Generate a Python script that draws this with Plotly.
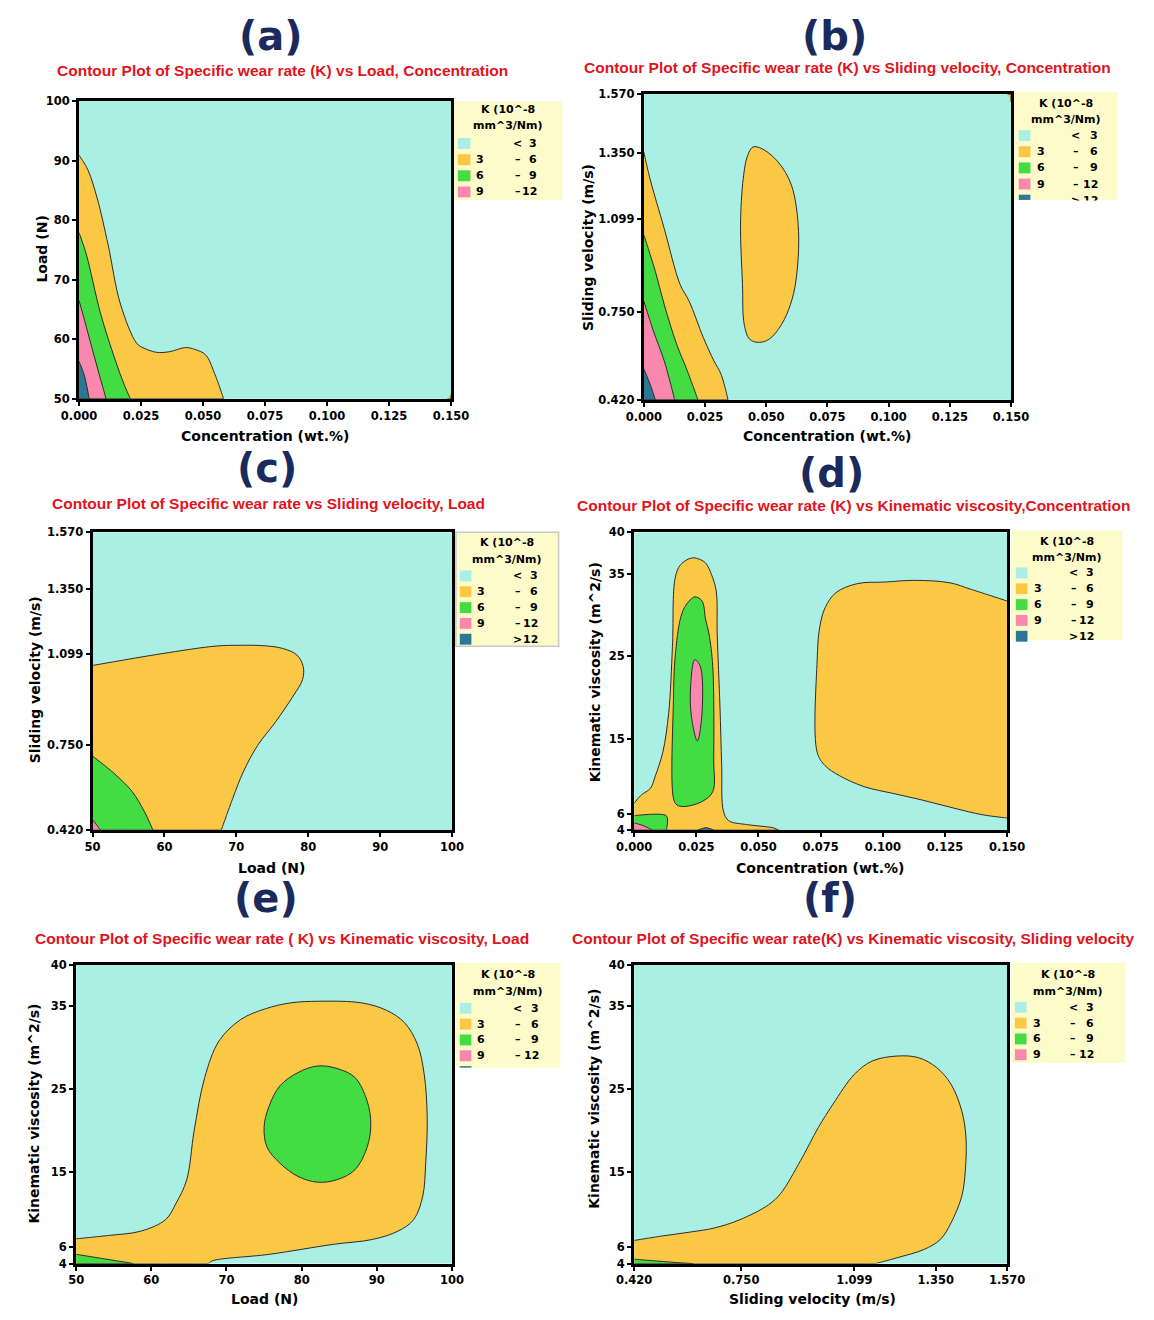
import plotly.graph_objects as go

W, H = 1154, 1320

# ---------------- colours / levels ----------------
C_CYAN = "#a9efe4"
C_YEL = "#fac845"
C_GRN = "#43dc43"
C_PNK = "#fa87ad"
C_TEAL = "#2a7896"
LEVEL_COLORS = [C_CYAN, C_YEL, C_GRN, C_PNK, C_TEAL]
LEVEL_LOW = ["", "3", "6", "9", ""]
LEVEL_MID = ["<", "–", "–", "–", ">"]
LEVEL_HIGH = ["3", "6", "9", "12", "12"]

# ---------------- tick values / labels ----------------
conc_ticks = [0.0, 0.025, 0.05, 0.075, 0.1, 0.125, 0.15]
conc_labels = ["0.000", "0.025", "0.050", "0.075", "0.100", "0.125", "0.150"]
load_ticks = [50, 60, 70, 80, 90, 100]
load_labels = ["50", "60", "70", "80", "90", "100"]
vel_ticks = [0.42, 0.75, 1.099, 1.35, 1.57]
vel_labels = ["0.420", "0.750", "1.099", "1.350", "1.570"]
visc_ticks = [4, 6, 15, 25, 35, 40]
visc_labels = ["4", "6", "15", "25", "35", "40"]

# ---------------- (a) Load vs Concentration ----------------
a_yel_x = [0, 0.0036, 0.0073, 0.0117, 0.0167, 0.0233, 0.0262, 0.0313, 0.0364, 0.0430, 0.0466, 0.0510, 0.0546, 0.0583, 0]
a_yel_y = [90.9, 88.4, 83.7, 75.9, 65.9, 59.3, 58.5, 57.8, 57.9, 58.6, 58.3, 57.4, 54.3, 50, 50]
a_grn_x = [0, 0.0029, 0.0087, 0.0146, 0.0182, 0.0207, 0]
a_grn_y = [77.9, 74.3, 64.3, 56.5, 52.4, 50, 50]
a_pnk_x = [0, 0.0022, 0.0051, 0.0080, 0.0109, 0]
a_pnk_y = [66.5, 63.2, 58.7, 54.3, 50, 50]
a_teal_x = [0, 0.0022, 0.0041, 0]
a_teal_y = [56.3, 53.8, 50, 50]
a_yel2_x = [0.1485, 0.150, 0.150]
a_yel2_y = [50, 50, 50.7]

# ---------------- (b) Sliding velocity vs Concentration ----------------
b_yel_x = [0, 0.0025, 0.0083, 0.0148, 0.0185, 0.0243, 0.0286, 0.0315, 0.0344, 0]
b_yel_y = [1.352, 1.252, 1.065, 0.854, 0.791, 0.654, 0.567, 0.517, 0.42, 0.42]
b_grn_x = [0, 0.0047, 0.0083, 0.0134, 0.0177, 0.0221, 0]
b_grn_y = [1.040, 0.903, 0.779, 0.629, 0.530, 0.42, 0.42]
b_pnk_x = [0, 0.0039, 0.0083, 0.0126, 0]
b_pnk_y = [0.791, 0.679, 0.567, 0.42, 0.42]
b_teal_x = [0, 0.0025, 0.0047, 0]
b_teal_y = [0.536, 0.480, 0.42, 0.42]
b_yel2_x = [0.0446, 0.0483, 0.0548, 0.0603, 0.0632, 0.0621, 0.0599, 0.0563, 0.0512, 0.0468, 0.0432, 0.0410, 0.0403, 0.0395, 0.0406, 0.0424]
b_yel2_y = [1.371, 1.364, 1.315, 1.227, 1.053, 0.866, 0.779, 0.704, 0.648, 0.636, 0.648, 0.704, 0.854, 1.078, 1.252, 1.339]
b_yel3_x = [0.1485, 0.150, 0.150]
b_yel3_y = [1.57, 1.57, 1.54]

# ---------------- (c) Sliding velocity vs Load ----------------
c_yel_x = [50, 59.5, 67.2, 70.5, 74.0, 76.4, 78.4, 79.3, 79.2, 77.9, 75.4, 72.95, 70.96, 69.5, 67.9, 50]
c_yel_y = [1.056, 1.101, 1.131, 1.134, 1.132, 1.122, 1.097, 1.052, 1.001, 0.938, 0.836, 0.747, 0.645, 0.543, 0.42, 0.42]
c_grn_x = [50, 53.0, 55.5, 57.2, 58.4, 50]
c_grn_y = [0.706, 0.639, 0.569, 0.492, 0.42, 0.42]
c_pnk_x = [50, 51.1, 50]
c_pnk_y = [0.461, 0.42, 0.42]

# ---------------- (d) Kinematic viscosity vs Concentration ----------------
d_yel_x = [0, 0.0029, 0.0065, 0.0086, 0.0115, 0.0139, 0.0154, 0.0165, 0.0187, 0.0230, 0.0258, 0.0287, 0.0311,
           0.0330, 0.0334, 0.0345, 0.0352, 0.0359, 0.0380, 0.0452, 0.0510, 0.0560, 0.0581, 0]
d_yel_y = [7.26, 8.26, 9.05, 10.64, 13.4, 18.2, 26.2, 34.5, 36.1, 36.9, 36.8, 36.3, 34.9,
           32.9, 27.7, 19.0, 11.8, 6.3, 5.15, 4.68, 4.48, 4.28, 4.0, 4.0]
d_grn_x = [0.0158, 0.0158, 0.0165, 0.0187, 0.0208, 0.0244, 0.0273, 0.0287, 0.0301, 0.0316, 0.0320, 0.0316, 0.0273, 0.0201, 0.0172]
d_grn_y = [7.86, 19.8, 25.0, 29.7, 31.2, 32.2, 31.7, 29.5, 27.7, 23.8, 12.6, 8.65, 7.46, 6.86, 7.06]
d_pnk_x = [0.0244, 0.0266, 0.0273, 0.0254, 0.0230, 0.0227]
d_pnk_y = [24.6, 23.8, 18.2, 14.8, 17.8, 21.4]
d_grn2_x = [0, 0.0129, 0.0134, 0.0129, 0]
d_grn2_y = [5.75, 5.75, 4.88, 4.0, 4.0]
d_pnk2_x = [0, 0.0043, 0.0072, 0]
d_pnk2_y = [4.88, 4.48, 4.0, 4.0]
d_teal_x = [0.0255, 0.0290, 0.0320]
d_teal_y = [4.0, 4.3, 4.0]
d_yel2_x = [0.150, 0.1356, 0.127, 0.1127, 0.1012, 0.0897, 0.0811, 0.0768, 0.0746, 0.0736, 0.0736, 0.0768, 0.0825,
            0.0926, 0.104, 0.1156, 0.1285, 0.140, 0.150]
d_yel2_y = [31.7, 33.1, 33.9, 34.2, 34.0, 33.8, 32.7, 30.9, 28.5, 24.6, 13.4, 11.8, 10.6,
            9.25, 8.45, 7.66, 6.67, 5.87, 5.47]

# ---------------- (e) Kinematic viscosity vs Load ----------------
e_yel_x = [50, 54.3, 58.6, 61.9, 63.3, 64.7, 65.7, 67.1, 69.0, 71.9, 75.2, 78.5, 82.3, 88.0, 91.3, 93.7, 95.4,
           96.3, 96.7, 96.5, 96.1, 94.9, 92.8, 89.4, 84.2, 75.7, 68.1, 67.6, 50]
e_yel_y = [6.98, 7.38, 7.9, 9.29, 11.28, 14.06, 20.0, 26.4, 30.8, 33.4, 34.7, 35.4, 35.6, 35.4, 34.5, 33.0, 30.4,
           26.8, 21.6, 16.1, 12.1, 9.29, 7.9, 6.9, 6.31, 5.11, 4.32, 4.0, 4.0]
e_grn_x = [82.1, 84.7, 87.1, 88.7, 89.2, 88.7, 87.1, 84.7, 82.1, 79.5, 77.1, 75.4, 75.0, 75.6, 77.1, 79.5]
e_grn_y = [27.8, 27.5, 26.4, 23.6, 20.8, 18.0, 15.3, 14.1, 13.8, 14.5, 16.1, 18.0, 20.4, 22.8, 25.4, 27.0]
e_grn2_x = [50, 57.6, 50]
e_grn2_y = [5.11, 4.0, 4.0]

# ---------------- (f) Kinematic viscosity vs Sliding velocity ----------------
f_yel_x = [0.42, 0.503, 0.591, 0.668, 0.746, 0.834, 0.872, 0.933, 0.988, 1.033, 1.099, 1.154, 1.231, 1.297, 1.353,
           1.397, 1.430, 1.443, 1.441, 1.430, 1.397, 1.364, 1.314, 1.231, 1.165, 0.42]
f_yel_y = [6.78, 7.30, 7.78, 8.29, 9.28, 11.07, 12.46, 16.4, 20.4, 23.2, 26.8, 28.4, 29.0, 28.8, 27.6,
           25.6, 22.4, 19.2, 15.2, 12.1, 8.9, 6.9, 5.7, 4.7, 4.0, 4.0]
f_grn_x = [0.42, 0.558, 0.602, 0.42]
f_grn_y = [4.52, 4.1, 4.0, 4.0]

# ---------------- text ----------------
panel_tags = ["(a)", "(b)", "(c)", "(d)", "(e)", "(f)"]
panel_titles = [
    "Contour Plot of Specific wear rate (K) vs Load, Concentration",
    "Contour Plot of Specific wear rate (K) vs Sliding velocity, Concentration",
    "Contour Plot of Specific wear rate vs Sliding velocity, Load",
    "Contour Plot of Specific wear rate (K) vs Kinematic viscosity,Concentration",
    "Contour Plot of Specific wear rate ( K) vs Kinematic viscosity, Load",
    "Contour Plot of Specific wear rate(K) vs Kinematic viscosity, Sliding velocity",
]
x_titles = ["Concentration (wt.%)", "Concentration (wt.%)", "Load (N)",
            "Concentration (wt.%)", "Load (N)", "Sliding velocity (m/s)"]
y_titles = ["Load (N)", "Sliding velocity (m/s)", "Sliding velocity (m/s)",
            "Kinematic viscosity (m^2/s)", "Kinematic viscosity (m^2/s)", "Kinematic viscosity (m^2/s)"]
legend_title = ["K (10^-8", "mm^3/Nm)"]

# ---------------- layout (pixel geometry) ----------------
FONT = "DejaVu Sans"
TFONT = "Liberation Sans"


def fx(x):
    return x / W


def fy(y):
    return 1 - y / H


panels = [
    dict(box=(63, 95, 447, 396), xt=conc_ticks, xl=conc_labels, xr=[0, 0.15],
         yt=load_ticks, yl=load_labels, yr=[50, 100],
         tag=(261, 29), title=(273, 64), xtitle=(255, 434), ytitle=(25, 245),
         leg=dict(box=(450, 95, 562, 195), ty=(104, 120), ey0=138, dy=16.3, n=4,
                  sw=(454, 467), lo=471, mid=516, hi=538, border=False, cut=None)),
    dict(box=(646, 88, 1025, 397), xt=conc_ticks, xl=conc_labels, xr=[0, 0.15],
         yt=vel_ticks, yl=vel_labels, yr=[0.42, 1.57],
         tag=(843, 29), title=(856, 61), xtitle=(835, 434), ytitle=(589, 243),
         leg=dict(box=(1028, 86, 1135, 195), ty=(98, 114), ey0=130, dy=16.3, n=5,
                  sw=(1033, 1045), lo=1050, mid=1092, hi=1117, border=False, cut=195)),
    dict(box=(77, 531, 448, 832), xt=load_ticks, xl=load_labels, xr=[50, 100],
         yt=vel_ticks, yl=vel_labels, yr=[0.42, 1.57],
         tag=(257, 466), title=(259, 502), xtitle=(262, 870), ytitle=(17, 680),
         leg=dict(box=(452, 531, 558, 646), ty=(541, 558), ey0=575, dy=16, n=5,
                  sw=(456, 468), lo=472, mid=516, hi=539, border=True, cut=None)),
    dict(box=(636, 531, 1021, 832), xt=conc_ticks, xl=conc_labels, xr=[0, 0.15],
         yt=visc_ticks, yl=visc_labels, yr=[4, 40],
         tag=(840, 471), title=(863, 504), xtitle=(828, 870), ytitle=(595, 672),
         leg=dict(box=(1025, 529, 1140, 640), ty=(540, 556), ey0=572, dy=16, n=5,
                  sw=(1030, 1042), lo=1047, mid=1090, hi=1113, border=False, cut=None)),
    dict(box=(60, 968, 448, 1270), xt=load_ticks, xl=load_labels, xr=[50, 100],
         yt=visc_ticks, yl=visc_labels, yr=[4, 40],
         tag=(256, 901), title=(272, 941), xtitle=(254, 1306), ytitle=(17, 1118),
         leg=dict(box=(452, 966, 560, 1072), ty=(978, 995), ey0=1012, dy=16, n=5,
                  sw=(456, 468), lo=472, mid=516, hi=540, border=False, cut=1072)),
    dict(box=(636, 968, 1021, 1270), xt=vel_ticks, xl=vel_labels, xr=[0.42, 1.57],
         yt=visc_ticks, yl=visc_labels, yr=[4, 40],
         tag=(838, 901), title=(862, 941), xtitle=(820, 1306), ytitle=(595, 1103),
         leg=dict(box=(1025, 966, 1143, 1067), ty=(978, 995), ey0=1011, dy=16, n=4,
                  sw=(1029, 1041), lo=1046, mid=1089, hi=1113, border=False, cut=None)),
]

regions = [
    [(a_yel_x, a_yel_y, C_YEL), (a_yel2_x, a_yel2_y, C_YEL), (a_grn_x, a_grn_y, C_GRN),
     (a_pnk_x, a_pnk_y, C_PNK), (a_teal_x, a_teal_y, C_TEAL)],
    [(b_yel_x, b_yel_y, C_YEL), (b_yel2_x, b_yel2_y, C_YEL), (b_yel3_x, b_yel3_y, C_YEL),
     (b_grn_x, b_grn_y, C_GRN), (b_pnk_x, b_pnk_y, C_PNK), (b_teal_x, b_teal_y, C_TEAL)],
    [(c_yel_x, c_yel_y, C_YEL), (c_grn_x, c_grn_y, C_GRN), (c_pnk_x, c_pnk_y, C_PNK)],
    [(d_yel_x, d_yel_y, C_YEL), (d_yel2_x, d_yel2_y, C_YEL), (d_grn_x, d_grn_y, C_GRN),
     (d_pnk_x, d_pnk_y, C_PNK), (d_grn2_x, d_grn2_y, C_GRN), (d_pnk2_x, d_pnk2_y, C_PNK),
     (d_teal_x, d_teal_y, C_TEAL)],
    [(e_yel_x, e_yel_y, C_YEL), (e_grn_x, e_grn_y, C_GRN), (e_grn2_x, e_grn2_y, C_GRN)],
    [(f_yel_x, f_yel_y, C_YEL), (f_grn_x, f_grn_y, C_GRN)],
]


def spline_path(xs, ys, xr, yr):
    """Prepare a region outline for plotly's spline renderer: vertices lying on the
    frame are doubled so they stay sharp; interior-only outlines are closed."""
    on_edge = [x in xr or y in yr for x, y in zip(xs, ys)]
    if not any(on_edge):
        return list(xs) + [xs[0]], list(ys) + [ys[0]]
    ox, oy = [], []
    for x, y, e in zip(xs, ys, on_edge):
        ox.append(x)
        oy.append(y)
        if e:
            ox.append(x)
            oy.append(y)
    return ox, oy


fig = go.Figure()
layout = dict(width=W, height=H, margin=dict(l=0, r=0, t=0, b=0),
              paper_bgcolor="white", plot_bgcolor=C_CYAN, showlegend=False,
              hovermode=False)
shapes = []
annotations = []

for i, p in enumerate(panels):
    n = "" if i == 0 else str(i + 1)
    xa, ya = "x" + n, "y" + n
    x0, y0, x1, y1 = p["box"]
    tickfont = dict(family=FONT, size=11.5, color="black", weight="bold")
    layout["xaxis" + n] = dict(
        domain=[fx(x0), fx(x1)], range=p["xr"], anchor=ya, tickvals=p["xt"], ticktext=p["xl"],
        showline=True, linecolor="black", linewidth=3, mirror=True, showgrid=False, zeroline=False,
        ticks="outside", ticklen=4, tickwidth=1.5, tickcolor="black", fixedrange=True, tickfont=tickfont)
    layout["yaxis" + n] = dict(
        domain=[fy(y1), fy(y0)], range=p["yr"], anchor=xa, tickvals=p["yt"], ticktext=p["yl"],
        showline=True, linecolor="black", linewidth=3, mirror=True, showgrid=False, zeroline=False,
        ticks="outside", ticklen=4, tickwidth=1.5, tickcolor="black", fixedrange=True, tickfont=tickfont)
    for rx, ry, col in regions[i]:
        sx, sy = spline_path(rx, ry, p["xr"], p["yr"])
        fig.add_trace(go.Scatter(x=sx, y=sy, xaxis=xa, yaxis=ya, mode="lines", fill="toself",
                                 fillcolor=col, line=dict(color="#2b2b2b", width=1, shape="spline", smoothing=1.0),
                                 hoverinfo="skip"))
    annotations.append(dict(text=panel_tags[i], x=fx(p["tag"][0]), y=fy(p["tag"][1]), xref="paper", yref="paper",
                            showarrow=False, xanchor="center", yanchor="middle",
                            font=dict(family=FONT, size=40, color="#1b2a5c", weight="bold")))
    annotations.append(dict(text=panel_titles[i], x=fx(p["title"][0]), y=fy(p["title"][1]), xref="paper", yref="paper",
                            showarrow=False, xanchor="center", yanchor="middle",
                            font=dict(family=TFONT, size=15.5, color="#e0141c", weight="bold")))
    annotations.append(dict(text=x_titles[i], x=fx(p["xtitle"][0]), y=fy(p["xtitle"][1]), xref="paper", yref="paper",
                            showarrow=False, xanchor="center", yanchor="middle",
                            font=dict(family=FONT, size=14, color="black", weight="bold")))
    annotations.append(dict(text=y_titles[i], x=fx(p["ytitle"][0]), y=fy(p["ytitle"][1]), xref="paper", yref="paper",
                            showarrow=False, xanchor="center", yanchor="middle", textangle=-90,
                            font=dict(family=FONT, size=14, color="black", weight="bold")))
    # legend box
    L = p["leg"]
    lx0, ly0, lx1, ly1 = L["box"]
    shapes.append(dict(type="rect", xref="paper", yref="paper", x0=fx(lx0), x1=fx(lx1), y0=fy(ly1), y1=fy(ly0),
                       fillcolor="#fefbcb", line=dict(color="#c8c8c8" if L["border"] else "rgba(0,0,0,0)", width=1.5),
                       layer="below"))
    lf = dict(family=FONT, size=11, color="black", weight="bold")
    for k, t in enumerate(legend_title):
        annotations.append(dict(text=t, x=fx((lx0 + lx1) / 2), y=fy(L["ty"][k]), xref="paper", yref="paper",
                                showarrow=False, xanchor="center", yanchor="middle", font=lf))
    for k in range(L["n"]):
        ey = L["ey0"] + k * L["dy"]
        top = ey - 5.5
        bot = min(ey + 5.5, L["cut"]) if L["cut"] else ey + 5.5
        if top >= bot:
            continue
        shapes.append(dict(type="rect", xref="paper", yref="paper", x0=fx(L["sw"][0]), x1=fx(L["sw"][1]),
                           y0=fy(bot), y1=fy(top), fillcolor=LEVEL_COLORS[k], line=dict(width=0)))
        if L["cut"] and ey + 4 > L["cut"] and i == 4:
            continue
        if LEVEL_LOW[k]:
            annotations.append(dict(text=LEVEL_LOW[k], x=fx(L["lo"]), y=fy(ey), xref="paper", yref="paper",
                                    showarrow=False, xanchor="left", yanchor="middle", font=lf))
        annotations.append(dict(text=LEVEL_MID[k], x=fx(L["mid"]), y=fy(ey), xref="paper", yref="paper",
                                showarrow=False, xanchor="center", yanchor="middle", font=lf))
        annotations.append(dict(text=LEVEL_HIGH[k], x=fx(L["hi"]), y=fy(ey), xref="paper", yref="paper",
                                showarrow=False, xanchor="right", yanchor="middle", font=lf))
    if L["cut"] and i == 1:
        # white cover hiding the clipped part of the last legend row
        annotations.append(dict(text=" ", x=fx(lx0), y=fy(L["cut"]), xref="paper", yref="paper",
                                showarrow=False, xanchor="left", yanchor="top", width=lx1 - lx0 + 4, height=12,
                                bgcolor="white", borderpad=0, font=dict(size=8)))

layout["shapes"] = shapes
layout["annotations"] = annotations
fig.update_layout(**layout)
fig.write_html("out.html")
